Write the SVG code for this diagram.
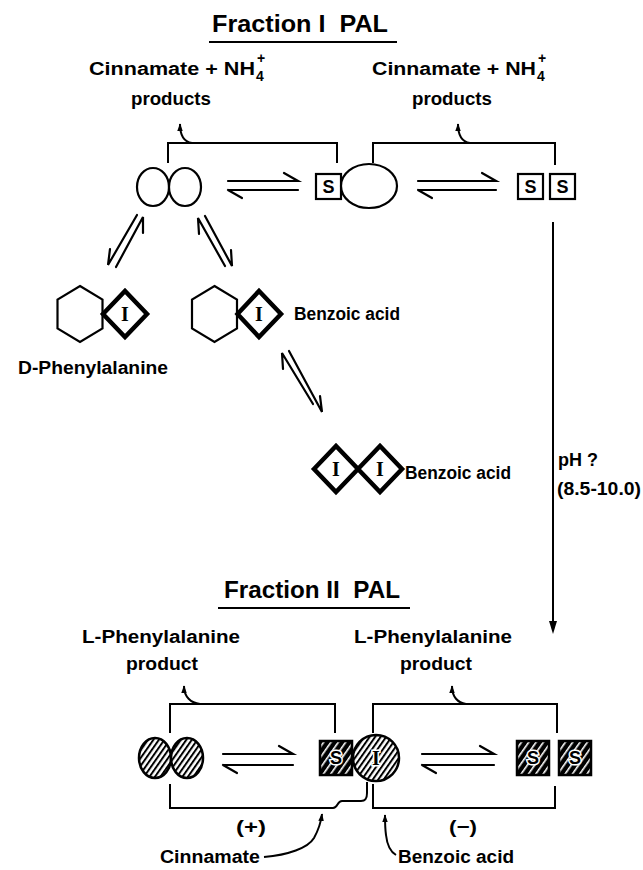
<svg xmlns="http://www.w3.org/2000/svg" width="643" height="870" viewBox="0 0 643 870">
<defs>
<style>
text{font-family:"Liberation Sans",Arial,sans-serif;font-weight:bold;fill:#000}
.lbl{font-size:18px}
.sm{font-size:14px}
.ttl{font-size:24px;white-space:pre}
.ln{fill:none;stroke:#000;stroke-width:2}
.eq{fill:none;stroke:#000;stroke-width:2.2;stroke-linecap:round}
.shape{fill:#fff;stroke:#000;stroke-width:2.2}
.dia{fill:#fff;stroke:#000;stroke-width:4.5}
.rn{font-family:"Liberation Serif","Times New Roman",serif;font-size:20px;font-weight:bold}
.hat{fill:url(#hatch);stroke:#000;stroke-width:2.5}
.hatd{fill:url(#hatchd);stroke:#000;stroke-width:2.5}
.halo{stroke:#fff;stroke-width:3;paint-order:stroke}
</style>
<pattern id="hatch" width="4.5" height="4.5" patternUnits="userSpaceOnUse" patternTransform="rotate(35)"><rect width="4.5" height="4.5" fill="#fff"/><rect width="2" height="4.5" fill="#000"/></pattern>
<pattern id="hatchd" width="6" height="6" patternUnits="userSpaceOnUse" patternTransform="rotate(35)"><rect width="6" height="6" fill="#000"/><rect width="1.6" height="6" fill="#fff"/></pattern>
<marker id="ah" viewBox="0 0 10 10" refX="9" refY="5" markerWidth="8" markerHeight="8" orient="auto" markerUnits="userSpaceOnUse"><path d="M0,1.5 L10,5 L0,8.5 z" fill="#000"/></marker>
</defs>
<rect width="643" height="870" fill="#fff"/>

<g id="title1">
<text class="ttl" x="212" y="32" textLength="176" lengthAdjust="spacingAndGlyphs" xml:space="preserve">Fraction I  PAL</text>
<line class="ln" x1="209" y1="42" x2="397" y2="42"/>
</g>
<g id="label-top-left">
<text class="lbl" x="89" y="75" textLength="166" lengthAdjust="spacingAndGlyphs">Cinnamate + NH</text>
<text class="sm" x="256" y="81">4</text>
<text class="sm" x="257" y="63">+</text>
<text class="lbl" x="131" y="105" textLength="80" lengthAdjust="spacingAndGlyphs">products</text>
</g>
<g id="label-top-right">
<text class="lbl" x="372" y="75" textLength="164" lengthAdjust="spacingAndGlyphs">Cinnamate + NH</text>
<text class="sm" x="537" y="81">4</text>
<text class="sm" x="538" y="63">+</text>
<text class="lbl" x="412" y="105" textLength="80" lengthAdjust="spacingAndGlyphs">products</text>
</g>

<g id="enzyme-free">
<ellipse class="shape" cx="153" cy="187" rx="16" ry="19"/>
<ellipse class="shape" cx="185" cy="187" rx="16" ry="19"/>
</g>
<g id="enzyme-substrate">
<rect class="shape" x="316" y="174" width="25" height="25"/>
<text class="lbl" x="328.5" y="193" text-anchor="middle">S</text>
<ellipse class="shape" cx="369" cy="186" rx="28" ry="22"/>
</g>
<g id="substrate-pair">
<rect class="shape" x="518" y="174" width="25" height="25"/>
<text class="lbl" x="530.5" y="193" text-anchor="middle">S</text>
<rect class="shape" x="550" y="174" width="25" height="25"/>
<text class="lbl" x="562.5" y="193" text-anchor="middle">S</text>
</g>

<g id="d-phe-complex">
<polygon class="shape" points="80,286 102.5,299.5 102.5,328.5 80,342 57.5,328.5 57.5,299.5"/>
<polygon class="dia" points="103,314 125,291 147,314 125,337"/>
<text class="rn" x="125" y="321" text-anchor="middle">I</text>
<text class="lbl" x="18" y="374" textLength="150" lengthAdjust="spacingAndGlyphs">D-Phenylalanine</text>
</g>
<g id="benzoate-complex">
<polygon class="shape" points="214.5,286 237,299.5 237,328.5 214.5,342 192,328.5 192,299.5"/>
<polygon class="dia" points="237.5,314 259,291 281,314 259,337"/>
<text class="rn" x="259" y="321" text-anchor="middle">I</text>
<text class="lbl" x="294" y="320" textLength="106" lengthAdjust="spacingAndGlyphs">Benzoic acid</text>
</g>
<g id="benzoate-pair">
<polygon class="dia" points="314,469 336,446 358,469 336,492"/>
<text class="rn" x="336" y="476" text-anchor="middle">I</text>
<polygon class="dia" points="358,469 380,446 402,469 380,492"/>
<text class="rn" x="380" y="476" text-anchor="middle">I</text>
<text class="lbl" x="405" y="479" textLength="106" lengthAdjust="spacingAndGlyphs">Benzoic acid</text>
</g>
<g id="ph-label">
<text class="lbl" x="558" y="466">pH ?</text>
<text class="lbl" x="557" y="495" textLength="84" lengthAdjust="spacingAndGlyphs">(8.5-10.0)</text>
</g>

<g id="title2">
<text class="ttl" x="224" y="598" textLength="176" lengthAdjust="spacingAndGlyphs" xml:space="preserve">Fraction II  PAL</text>
<line class="ln" x1="218" y1="608" x2="410" y2="608"/>
</g>
<g id="label-bottom-left">
<text class="lbl" x="82" y="643" textLength="158" lengthAdjust="spacingAndGlyphs">L-Phenylalanine</text>
<text class="lbl" x="126" y="670" textLength="72" lengthAdjust="spacingAndGlyphs">product</text>
</g>
<g id="label-bottom-right">
<text class="lbl" x="354" y="643" textLength="158" lengthAdjust="spacingAndGlyphs">L-Phenylalanine</text>
<text class="lbl" x="400" y="670" textLength="72" lengthAdjust="spacingAndGlyphs">product</text>
</g>

<g id="enzyme2-free">
<ellipse class="hat" cx="155" cy="758" rx="16" ry="20"/>
<ellipse class="hat" cx="187" cy="758" rx="16" ry="20"/>
</g>
<g id="enzyme2-substrate-inhibitor">
<rect class="hatd" x="320" y="741" width="32" height="34"/>
<text class="lbl halo" x="336" y="764" text-anchor="middle">S</text>
<circle class="hat" cx="376" cy="758" r="23"/>
<text class="rn halo" x="376" y="765" text-anchor="middle">I</text>
</g>
<g id="substrate2-pair">
<rect class="hatd" x="517" y="741" width="32" height="34"/>
<text class="lbl halo" x="533" y="764" text-anchor="middle">S</text>
<rect class="hatd" x="559" y="741" width="32" height="34"/>
<text class="lbl halo" x="575" y="764" text-anchor="middle">S</text>
</g>
<g id="effector-labels">
<text class="lbl" x="236" y="833" textLength="30" lengthAdjust="spacingAndGlyphs">(+)</text>
<text class="lbl" x="449" y="833" textLength="28" lengthAdjust="spacingAndGlyphs">(−)</text>
<text class="lbl" x="160" y="863" textLength="100" lengthAdjust="spacingAndGlyphs">Cinnamate</text>
<text class="lbl" x="398" y="863" textLength="116" lengthAdjust="spacingAndGlyphs">Benzoic acid</text>
</g>

<g id="connectors">
<path class="ln" d="M168,163 V143 H337 V163"/>
<path class="ln" d="M192,143 C185,142 180,136 180,124" marker-end="url(#ah)"/>
<path class="ln" d="M373,163 V143 H555 V165"/>
<path class="ln" d="M470,143 C463,142 458,136 458,124" marker-end="url(#ah)"/>
<path class="eq" d="M228,181 H298 L284,173 M228,190 H298 M228,190 L242,198"/>
<path class="eq" d="M418,181 H496 L482,173 M418,190 H496 M418,190 L432,198"/>
<path class="eq" d="M137,215 L108,265 L110,249 M116,267 L143,217 L143,233"/>
<path class="eq" d="M225,266 L198,218 L199,234 M205,216 L232,266 L231,250"/>
<path class="eq" d="M313,404 L282,353 L283,369 M289,351 L322,412 L320,396"/>
<line class="ln" x1="553" y1="222" x2="553" y2="624"/>
<polygon points="549,621 557,621 553,634" fill="#000"/>
<path class="ln" d="M170,733 V704 H335 V733"/>
<path class="ln" d="M200,704 C191,703 184,697 184,686" marker-end="url(#ah)"/>
<path class="ln" d="M373,733 V704 H557 V733"/>
<path class="ln" d="M466,704 C458,703 452,697 452,686" marker-end="url(#ah)"/>
<path class="eq" d="M223,754 H293 L279,746 M223,765 H293 M223,765 L237,773"/>
<path class="eq" d="M422,754 H494 L480,746 M422,765 H494 M422,765 L436,773"/>
<path class="ln" d="M170,784 V808 H333 C338,808 337,801 342,801 H361 C366,801 367,798 367,793 V782"/>
<path class="ln" d="M373,784 V808 H555 V786"/>
<path class="ln" d="M264,857 C288,855 308,848 314,838 C319,829 321,822 322,814" marker-end="url(#ah)"/>
<path class="ln" d="M396,855 C389,851 387,844 386,835 C385,828 385,822 385,815" marker-end="url(#ah)"/>
</g>
</svg>
